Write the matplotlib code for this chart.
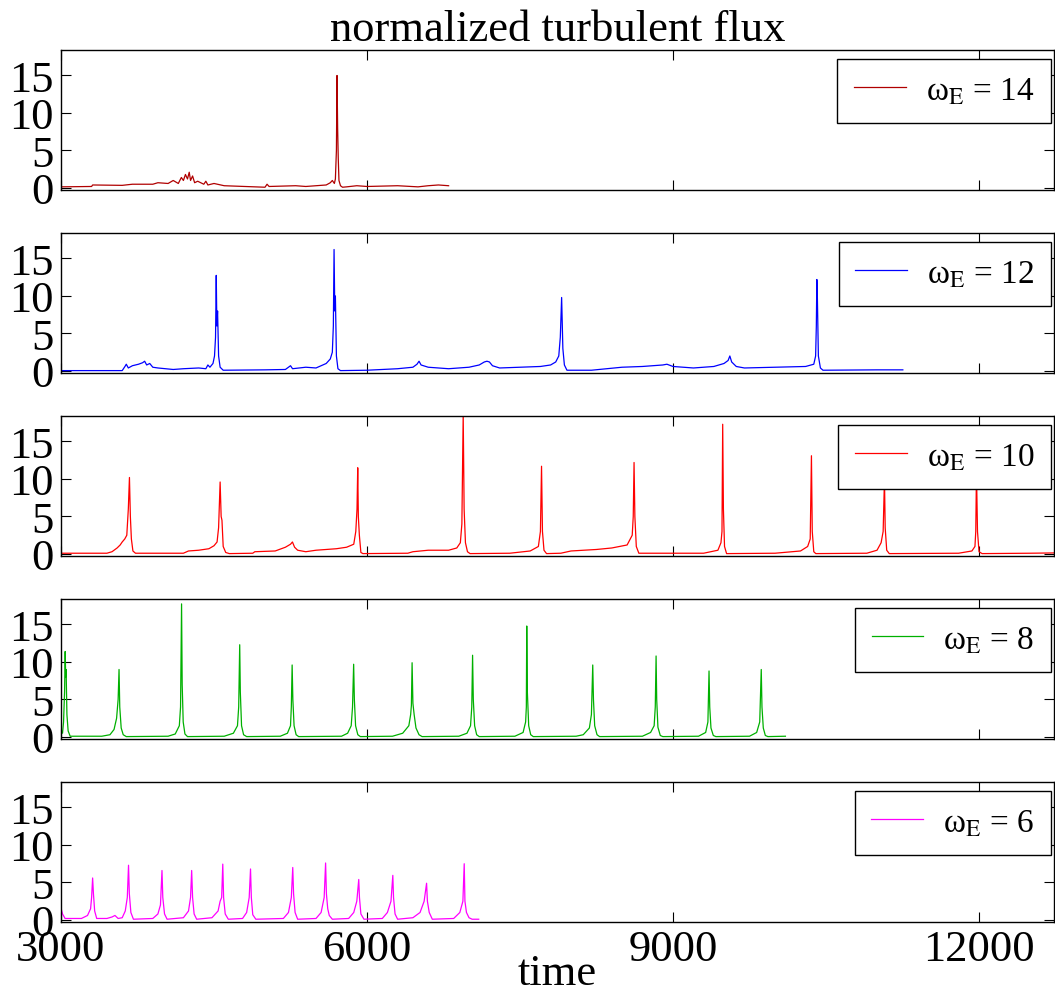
import matplotlib
matplotlib.use('Agg')
import matplotlib.pyplot as plt

plt.rcParams['font.family'] = ['Liberation Serif', 'DejaVu Serif']
plt.rcParams['mathtext.fontset'] = 'stix'

# data: (time, normalized flux) vertices per run
t14 = [3000, 3300, 3310, 3600, 3700, 3900, 3950, 4050, 4100, 4150, 4180, 4200, 4220, 4240, 4257,
       4270, 4290, 4310, 4340, 4400, 4420, 4440, 4500, 4600, 5000, 5020, 5040, 5300, 5400, 5600,
       5640, 5660, 5680, 5690, 5700, 5706, 5712, 5718, 5725, 5740, 5760, 5800, 5900, 6000, 6300,
       6500, 6600, 6700, 6800]
f14 = [0.15, 0.2, 0.4, 0.35, 0.5, 0.5, 0.7, 0.6, 1.0, 0.6, 1.4, 1.0, 1.8, 1.2, 2.1,
       1.0, 1.6, 0.7, 0.9, 0.5, 0.9, 0.4, 0.6, 0.3, 0.1, 0.5, 0.2, 0.3, 0.2, 0.4,
       0.7, 1.0, 0.6, 1.2, 5.0, 15.0, 8.0, 4.0, 1.0, 0.3, 0.1, 0.15, 0.3, 0.2, 0.3,
       0.15, 0.3, 0.4, 0.3]

t12 = [3000, 3600, 3627, 3640, 3660, 3700, 3760, 3800, 3820, 3840, 3870, 3900, 3950, 4100, 4200,
       4350, 4420, 4440, 4460, 4490, 4505, 4515, 4522, 4528, 4535, 4545, 4560, 4590, 5000, 5200,
       5250, 5270, 5400, 5500, 5550, 5600, 5640, 5660, 5670, 5677, 5684, 5690, 5700, 5715, 5740,
       6000, 6300, 6450, 6490, 6510, 6530, 6600, 6800, 6900, 7000, 7100, 7150, 7176, 7200, 7230,
       7300, 7500, 7700, 7800, 7850, 7880, 7895, 7908, 7920, 7935, 7960, 8200, 8500, 8700, 8900,
       8940, 9000, 9200, 9400, 9500, 9540, 9557, 9575, 9620, 9700, 10000, 10300, 10380, 10398, 10405,
       10410, 10415, 10425, 10445, 10470, 11000, 11253]
f12 = [0.05, 0.05, 0.6, 0.9, 0.4, 0.7, 0.9, 1.1, 1.3, 0.8, 1.0, 0.5, 0.4, 0.2, 0.3,
       0.4, 0.3, 0.8, 0.5, 1.0, 2.0, 4.5, 12.75, 6.0, 8.0, 2.0, 0.5, 0.1, 0.15, 0.2,
       0.7, 0.3, 0.5, 0.4, 0.7, 1.0, 1.6, 2.5, 6.0, 16.2, 8.0, 10.0, 2.0, 0.3, 0.05,
       0.1, 0.3, 0.5, 0.9, 1.3, 0.8, 0.5, 0.3, 0.4, 0.5, 0.8, 1.2, 1.3, 1.2, 0.7,
       0.4, 0.5, 0.6, 0.8, 1.2, 2.0, 4.5, 9.8, 3.0, 0.8, 0.1, 0.1, 0.5, 0.6, 0.8,
       0.9, 0.6, 0.4, 0.6, 1.0, 1.4, 2.0, 1.2, 0.6, 0.4, 0.5, 0.6, 0.9, 2.0, 6.0,
       12.2, 10.0, 2.0, 0.4, 0.1, 0.15, 0.15]

t10 = [3000, 3450, 3500, 3550, 3580, 3600, 3625, 3645, 3660, 3671, 3680, 3690, 3705, 3730, 4200,
       4250, 4350, 4450, 4500, 4530, 4545, 4560, 4570, 4578, 4590, 4615, 4650, 4880, 4900, 5100,
       5200, 5250, 5269, 5290, 5320, 5400, 5500, 5600, 5700, 5800, 5870, 5890, 5902, 5909, 5915,
       5925, 5940, 5960, 6400, 6450, 6600, 6800, 6880, 6915, 6930, 6943, 6952, 6965, 6985, 7010,
       7400, 7600, 7680, 7700, 7711, 7720, 7735, 7760, 7900, 8000, 8250, 8400, 8550, 8600, 8610,
       8618, 8626, 8640, 8665, 9300, 9440, 9470, 9480, 9487, 9494, 9505, 9525, 10000, 10250, 10320,
       10345, 10357, 10365, 10380, 10400, 10900, 11000, 11040, 11060, 11073, 11080, 11095, 11120, 11800, 11930,
       11960, 11968, 11975, 11985, 12000, 12030, 12500, 12800]
f10 = [0.1, 0.1, 0.3, 0.8, 1.2, 1.6, 2.0, 2.5, 6.0, 10.2, 5.0, 2.0, 0.4, 0.1, 0.1,
       0.4, 0.5, 0.7, 1.1, 1.6, 3.5, 9.6, 5.0, 4.5, 1.0, 0.2, 0.05, 0.1, 0.3, 0.4,
       0.9, 1.3, 1.6, 0.9, 0.5, 0.3, 0.5, 0.6, 0.7, 0.9, 1.3, 3.0, 6.0, 11.5, 5.0,
       2.5, 0.2, 0.05, 0.1, 0.3, 0.5, 0.5, 0.8, 1.5, 4.0, 18.6, 6.0, 1.5, 0.3, 0.05,
       0.1, 0.4, 1.0, 3.0, 11.7, 3.0, 0.5, 0.05, 0.1, 0.4, 0.6, 0.8, 1.2, 2.5, 5.0,
       12.2, 5.0, 1.0, 0.1, 0.1, 0.5, 1.5, 3.0, 17.3, 6.0, 1.0, 0.05, 0.1, 0.4, 1.0,
       2.0, 13.1, 3.0, 0.3, 0.05, 0.1, 0.5, 1.5, 3.0, 10.0, 3.5, 0.5, 0.05, 0.1, 0.4,
       1.0, 3.0, 11.0, 3.0, 0.3, 0.05, 0.1, 0.15]

t8 = [3000, 3015, 3025, 3035, 3041, 3046, 3050, 3058, 3070, 3090, 3400, 3480, 3520, 3545, 3560,
      3569, 3576, 3590, 3610, 3640, 4050, 4120, 4160, 4172, 4182, 4188, 4198, 4215, 4240, 4600,
      4690, 4730, 4742, 4752, 4758, 4770, 4790, 4820, 5150, 5220, 5250, 5258, 5266, 5273, 5285,
      5305, 5330, 5750, 5810, 5845, 5858, 5869, 5876, 5888, 5910, 5935, 6250, 6350, 6410, 6428,
      6435, 6442, 6450, 6462, 6480, 6510, 6540, 6900, 6980, 7015, 7027, 7035, 7042, 7055, 7075,
      7100, 7450, 7530, 7555, 7562, 7566, 7572, 7585, 7605, 7630, 8050, 8120, 8180, 8200, 8213,
      8220, 8232, 8255, 8280, 8700, 8780, 8815, 8826, 8834, 8840, 8852, 8875, 8900, 9250, 9320,
      9342, 9353, 9360, 9372, 9395, 9420, 9750, 9820, 9850, 9865, 9872, 9885, 9905, 9930, 10102]
f8 = [1.0, 0.5, 2.0, 6.0, 11.4, 8.0, 9.0, 3.0, 0.8, 0.1, 0.1, 0.3, 1.0, 2.5, 5.0,
      9.0, 4.0, 1.2, 0.3, 0.05, 0.1, 0.4, 1.5, 4.0, 17.75, 7.0, 2.0, 0.4, 0.05, 0.1,
      0.5, 1.5, 4.0, 12.3, 6.0, 1.5, 0.3, 0.05, 0.1, 0.5, 1.5, 4.0, 9.6, 5.0, 1.5,
      0.3, 0.05, 0.1, 0.5, 1.5, 4.0, 9.7, 5.0, 1.5, 0.3, 0.05, 0.1, 0.5, 1.5, 3.0,
      4.2, 9.9, 4.5, 3.0, 1.2, 0.3, 0.05, 0.1, 0.5, 1.5, 4.0, 10.9, 5.0, 1.5, 0.3,
      0.05, 0.1, 0.6, 2.0, 4.0, 14.8, 6.0, 1.5, 0.3, 0.05, 0.1, 0.3, 1.2, 3.0, 9.6,
      5.0, 1.5, 0.3, 0.05, 0.1, 0.6, 1.5, 4.0, 10.8, 5.0, 1.3, 0.2, 0.05, 0.1, 0.6,
      2.0, 8.8, 4.0, 1.2, 0.2, 0.05, 0.1, 0.6, 2.0, 9.0, 4.0, 1.2, 0.2, 0.05, 0.1]

t6 = [3000, 3015, 3040, 3200, 3260, 3290, 3300, 3310, 3318, 3330, 3350, 3450, 3500, 3529, 3560,
      3600, 3630, 3650, 3662, 3670, 3685, 3710, 3900, 3950, 3975, 3990, 3998, 4015, 4040, 4200,
      4250, 4270, 4281, 4290, 4305, 4330, 4480, 4540, 4560, 4575, 4586, 4594, 4610, 4640, 4780,
      4820, 4845, 4858, 4866, 4880, 4910, 5180, 5230, 5258, 5272, 5280, 5295, 5320, 5500, 5550,
      5580, 5594, 5602, 5615, 5630, 5660, 5820, 5870, 5900, 5919, 5926, 5940, 5970, 6150, 6200,
      6235, 6253, 6260, 6275, 6300, 6450, 6520, 6560, 6584, 6592, 6610, 6640, 6850, 6910, 6940,
      6953, 6960, 6975, 7000, 7030, 7095]
f6 = [1.6, 0.8, 0.2, 0.2, 0.6, 1.5, 3.0, 5.6, 3.5, 1.2, 0.2, 0.2, 0.4, 0.6, 0.2,
      0.3, 1.2, 3.0, 7.3, 3.5, 1.0, 0.1, 0.2, 0.8, 2.0, 6.6, 3.0, 0.8, 0.1, 0.3,
      1.2, 3.0, 6.6, 3.0, 0.8, 0.1, 0.3, 1.2, 2.5, 3.0, 7.45, 3.0, 0.8, 0.1, 0.2,
      1.0, 3.0, 6.8, 3.0, 0.7, 0.1, 0.2, 1.0, 3.0, 7.0, 3.5, 1.0, 0.1, 0.2, 1.0,
      3.0, 7.6, 3.5, 1.5, 0.6, 0.1, 0.2, 1.0, 2.5, 5.4, 3.0, 0.8, 0.1, 0.2, 1.0,
      2.5, 5.95, 3.0, 0.8, 0.1, 0.3, 1.0, 2.5, 4.9, 2.5, 1.0, 0.1, 0.2, 1.0, 2.5,
      7.5, 2.5, 1.0, 0.3, 0.1, 0.1]

runs = [(t14, f14, '#b00000', '14'),
        (t12, f12, '#0000ff', '12'),
        (t10, f10, '#ff0000', '10'),
        (t8, f8, '#00b000', '8'),
        (t6, f6, '#ff00ff', '6')]

fig = plt.figure(figsize=(10.55, 9.95), dpi=100)

W, H = 1055.0, 995.0
tops = [51, 234, 417, 600, 783]
axes = []
for i, (t, f, col, w) in enumerate(runs):
    ax = fig.add_axes([61 / W, (H - tops[i] - 140) / H, 993 / W, 140 / H])
    ax.plot(t, f, color=col, lw=0.9, label='ω$_{\\mathrm{E}}$ = ' + w)
    ax.set_xlim(3000, 12735)
    ax.set_ylim(-0.27, 18.4)
    ax.set_xticks([3000, 6000, 9000, 12000])
    ax.set_yticks([0, 5, 10, 15])
    ax.tick_params(direction='in', top=True, right=True, length=7, width=0.8,
                   labelsize=32, pad=5, colors='black')
    if i < 4:
        ax.tick_params(labelbottom=False)
    for s in ax.spines.values():
        s.set_linewidth(1.0)
    leg = ax.legend(loc='upper right', bbox_to_anchor=(0.997, 0.936), borderaxespad=0,
                    fontsize=24, fancybox=False, edgecolor='black', framealpha=1,
                    handlelength=1.55, handletextpad=0.6, borderpad=0.5)
    leg.get_frame().set_linewidth(1.0)
    axes.append(ax)

axes[0].set_title('normalized turbulent flux', fontsize=32, pad=7)
fig.text(557.5 / W, 0.01, 'time', ha='center', va='baseline', fontsize=32)

fig.savefig('out.png', dpi=100)
